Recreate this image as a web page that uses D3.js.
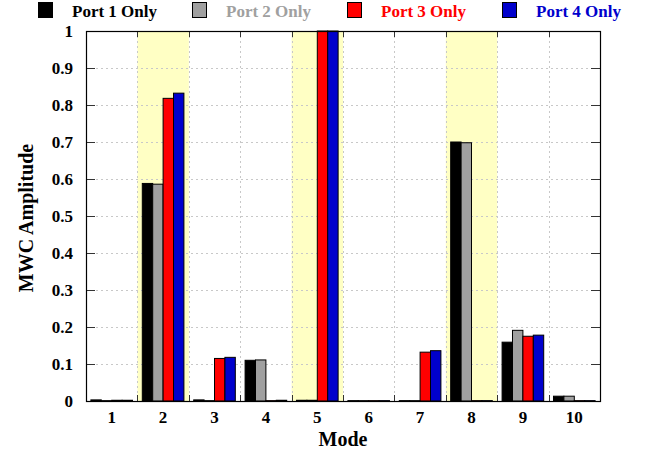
<!DOCTYPE html>
<html>
<head>
<meta charset="utf-8">
<script src="https://cdn.jsdelivr.net/npm/d3@7"></script>
<style>
  html, body { margin: 0; padding: 0; background: #fff; }
  svg { display: block; }
  svg text { font-family: "Liberation Serif", "Times New Roman", serif; font-weight: bold; }
</style>
</head>
<body>
<svg id="chart" width="645" height="454"></svg>
<script>
// Mode categories and per-port MWC amplitudes
const modes = ["1", "2", "3", "4", "5", "6", "7", "8", "9", "10"];
const seriesNames = ["Port 1 Only", "Port 2 Only", "Port 3 Only", "Port 4 Only"];
const seriesColors = ["#000000", "#a0a0a0", "#ff0000", "#0000cc"];
const port1 = [0.003, 0.588, 0.003, 0.110, 0.002, 0.001, 0.001, 0.700, 0.159, 0.013];
const port2 = [0.001, 0.586, 0.001, 0.111, 0.002, 0.001, 0.001, 0.698, 0.191, 0.013];
const port3 = [0.002, 0.818, 0.115, 0.001, 1.000, 0.001, 0.132, 0.001, 0.175, 0.001];
const port4 = [0.002, 0.832, 0.118, 0.002, 1.000, 0.001, 0.136, 0.001, 0.178, 0.001];
const highlightedModes = ["2", "5", "8"];
const yTicks = [0, 0.1, 0.2, 0.3, 0.4, 0.5, 0.6, 0.7, 0.8, 0.9, 1];

const series = [port1, port2, port3, port4];
const FONT = "'Liberation Serif', 'Times New Roman', serif";

const svg = d3.select("#chart");
const margin = { left: 86, right: 45, top: 31, bottom: 53 };
const W = 645, H = 454;
const x0 = margin.left, x1 = W - margin.right;
const y0 = H - margin.bottom, y1 = margin.top;

const x = d3.scaleBand().domain(modes).range([x0, x1]).paddingInner(0).paddingOuter(0);
const xs = d3.scaleBand().domain(d3.range(series.length)).range([0, x.bandwidth()]).paddingOuter(0.47).paddingInner(0);
const y = d3.scaleLinear().domain([0, 1]).range([y0, y1]);

// Highlighted mode bands
svg.append("g").selectAll("rect").data(highlightedModes).join("rect")
  .attr("x", d => x(d)).attr("y", y1)
  .attr("width", x.bandwidth()).attr("height", y0 - y1)
  .attr("fill", "#ffffc4");

// Dotted grid
const grid = svg.append("g").attr("stroke", "#c8c8c8").attr("stroke-dasharray", "2,3").attr("stroke-width", 1);
grid.selectAll("line.h").data(yTicks.slice(1, -1)).join("line").attr("class", "h")
  .attr("x1", x0).attr("x2", x1)
  .attr("y1", d => Math.round(y(d)) + 0.5).attr("y2", d => Math.round(y(d)) + 0.5);
const boundaries = modes.slice(1).map(m => x(m));
grid.selectAll("line.v").data(boundaries).join("line").attr("class", "v")
  .attr("x1", d => Math.round(d) + 0.5).attr("x2", d => Math.round(d) + 0.5)
  .attr("y1", y1).attr("y2", y0);

// Bars
const barsG = svg.append("g");
series.forEach((vals, si) => {
  barsG.append("g").selectAll("rect").data(vals).join("rect")
    .attr("x", (d, i) => x(modes[i]) + xs(si))
    .attr("y", d => y(d))
    .attr("width", xs.bandwidth())
    .attr("height", d => Math.max(0, y0 - y(d)))
    .attr("fill", seriesColors[si])
    .attr("stroke", "#000").attr("stroke-width", 1);
});

// Tick marks (inward) on all four sides
const ticks = svg.append("g").attr("stroke", "#333").attr("stroke-width", 1);
yTicks.forEach(t => {
  const yy = Math.round(y(t)) + 0.5;
  ticks.append("line").attr("x1", x0).attr("x2", x0 + 9).attr("y1", yy).attr("y2", yy);
  ticks.append("line").attr("x1", x1).attr("x2", x1 - 9).attr("y1", yy).attr("y2", yy);
});
boundaries.forEach(b => {
  const xx = Math.round(b) + 0.5;
  ticks.append("line").attr("x1", xx).attr("x2", xx).attr("y1", y0).attr("y2", y0 - 6);
  ticks.append("line").attr("x1", xx).attr("x2", xx).attr("y1", y1).attr("y2", y1 + 6);
});

// Frame
svg.append("rect")
  .attr("x", x0 + 0.5).attr("y", y1 + 0.5)
  .attr("width", x1 - x0).attr("height", y0 - y1)
  .attr("fill", "none").attr("stroke", "#000").attr("stroke-width", 1.2);

// Y axis labels
const yAxis = d3.axisLeft(y).tickValues(yTicks).tickSize(0).tickPadding(13).tickFormat(d3.format("~g"));
svg.append("g").attr("transform", `translate(${x0},0)`).call(yAxis)
  .attr("font-family", FONT).attr("font-size", 17)
  .call(g => g.select(".domain").remove())
  .selectAll("text").style("font-family", FONT).style("font-weight", "bold").attr("fill", "#000");

// X axis labels
const xAxis = d3.axisBottom(x).tickSize(0).tickPadding(10);
svg.append("g").attr("transform", `translate(0,${y0})`).call(xAxis)
  .attr("font-family", FONT).attr("font-size", 17)
  .call(g => g.select(".domain").remove())
  .selectAll("text").style("font-family", FONT).style("font-weight", "bold").attr("fill", "#000");

// Axis titles
svg.append("text").attr("x", (x0 + x1) / 2).attr("y", 446).attr("text-anchor", "middle")
  .style("font-size", "20px").text("Mode");
svg.append("text").attr("transform", `translate(33,218) rotate(-90)`).attr("text-anchor", "middle")
  .style("font-size", "20px").text("MWC Amplitude");

// Legend
const legendX = [38, 192, 347, 502];
const legend = svg.append("g");
seriesNames.forEach((name, i) => {
  legend.append("rect").attr("x", legendX[i] + 0.5).attr("y", 2.5).attr("width", 14).attr("height", 15)
    .attr("fill", seriesColors[i]).attr("stroke", "#000").attr("stroke-width", 1);
  legend.append("text").attr("x", legendX[i] + 34).attr("y", 17).style("font-size", "17px")
    .attr("fill", seriesColors[i]).text(name);
});
</script>
</body>
</html>
